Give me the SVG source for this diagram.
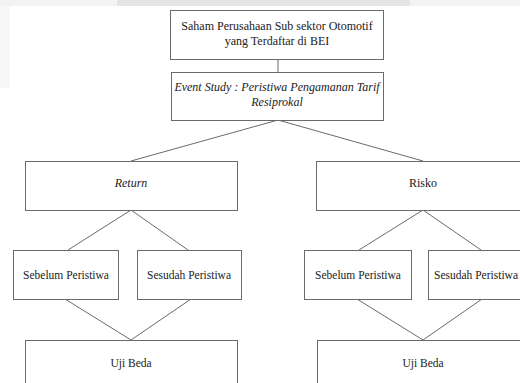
<svg xmlns="http://www.w3.org/2000/svg" width="520" height="383" viewBox="0 0 520 383">
<style>
.box{fill:#fff;stroke:#6a6a6a;stroke-width:1}
.ln{stroke:#6a6a6a;stroke-width:1;fill:none}
.t{font-family:"Liberation Serif","Times New Roman",serif;font-size:12px;fill:#222;text-anchor:middle}
.s{font-size:11.5px}
.it{font-style:italic}
</style>
<rect x="0" y="0" width="520" height="383" fill="#fff"/>
<rect x="0" y="0" width="10" height="88" fill="#f7f7f7"/>
<rect x="0" y="0" width="520" height="6" fill="#f3f3f3"/>
<rect x="117" y="0" width="293" height="6" fill="#e5e5e5"/>
<g id="connectors">
<line class="ln" x1="278" y1="59" x2="278" y2="72"/>
<line class="ln" x1="278" y1="120" x2="131" y2="161"/>
<line class="ln" x1="278" y1="120" x2="423" y2="161"/>
<line class="ln" x1="131" y1="210" x2="68" y2="250"/>
<line class="ln" x1="131" y1="210" x2="188" y2="250"/>
<line class="ln" x1="423" y1="210" x2="359" y2="250"/>
<line class="ln" x1="423" y1="210" x2="481" y2="250"/>
<line class="ln" x1="65" y1="299" x2="131" y2="340"/>
<line class="ln" x1="191" y1="299" x2="131" y2="340"/>
<line class="ln" x1="357" y1="299" x2="423" y2="340"/>
<line class="ln" x1="482" y1="299" x2="423" y2="340"/>
</g>
<g id="saham">
<rect class="box" x="170.5" y="10.5" width="213" height="49"/>
<text class="t" x="277" y="30">Saham Perusahaan Sub sektor Otomotif</text>
<text class="t" x="277" y="45">yang Terdaftar di BEI</text>
</g>
<g id="event">
<rect class="box" x="171.5" y="72.5" width="212" height="48"/>
<text class="t it" x="277" y="91">Event Study : Peristiwa Pengamanan Tarif</text>
<text class="t it" x="277" y="106">Resiprokal</text>
</g>
<g id="return">
<rect class="box" x="25.5" y="161.5" width="212" height="49"/>
<text class="t it" x="131" y="187">Return</text>
</g>
<g id="risko">
<rect class="box" x="316.5" y="161.5" width="214" height="49"/>
<text class="t" x="423" y="187">Risko</text>
</g>
<g id="sebelum1">
<rect class="box" x="13.5" y="250.5" width="105" height="49"/>
<text class="t s" x="66" y="279">Sebelum Peristiwa</text>
</g>
<g id="sesudah1">
<rect class="box" x="137.5" y="250.5" width="104" height="49"/>
<text class="t s" x="189" y="279">Sesudah Peristiwa</text>
</g>
<g id="sebelum2">
<rect class="box" x="304.5" y="250.5" width="107" height="49"/>
<text class="t s" x="358" y="279">Sebelum Peristiwa</text>
</g>
<g id="sesudah2">
<rect class="box" x="428.5" y="250.5" width="106" height="49"/>
<text class="t s" x="476" y="279">Sesudah Peristiwa</text>
</g>
<g id="uji1">
<rect class="box" x="25.5" y="340.5" width="212" height="60"/>
<text class="t s" x="131" y="367">Uji Beda</text>
</g>
<g id="uji2">
<rect class="box" x="317.5" y="340.5" width="212" height="60"/>
<text class="t s" x="423" y="367">Uji Beda</text>
</g>
</svg>
